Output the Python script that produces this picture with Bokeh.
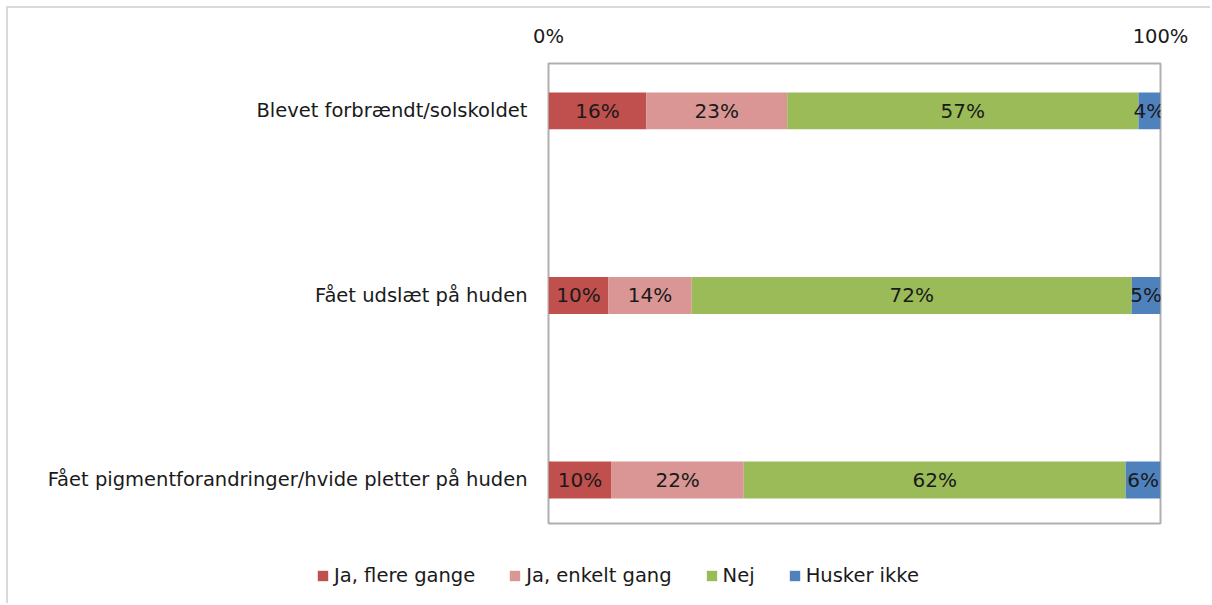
from bokeh.plotting import figure
from bokeh.models import (Range1d, FixedTicker, ColumnDataSource, Legend, LegendItem)
from bokeh.core.properties import value
from bokeh.embed import file_html
from bokeh.resources import INLINE

categories = ["Blevet forbrændt/solskoldet",
              "Fået udslæt på huden",
              "Fået pigmentforandringer/hvide pletter på huden"]
series = ["Ja, flere gange", "Ja, enkelt gang", "Nej", "Husker ikke"]
colors = ["#C0504D", "#D99694", "#9BBB59", "#4F81BD"]

ja_flere = [16.0, 9.8, 10.3]
ja_enkelt = [23.0, 13.6, 21.6]
nej = [57.4, 71.9, 62.4]
husker_ikke = [3.6, 4.7, 5.7]
labels = [["16%", "10%", "10%"],
          ["23%", "14%", "22%"],
          ["57%", "72%", "62%"],
          ["4%", "5%", "6%"]]

FONT = "DejaVu Sans"
FS = "19.5px"
BAR_FS = "20px"
TEXT_COLOR = "#1a1a1a"
BORDER = "2px solid #d9d9d9"

p = figure(width=1204, height=545, output_backend="svg", toolbar_location=None,
           x_axis_location="above", x_range=Range1d(0, 100),
           y_range=Range1d(2.236, -0.257),
           min_border_left=540, min_border_right=52,
           min_border_top=55, min_border_bottom=30)
p.styles = {"margin-left": "6px", "margin-top": "6px",
            "border-left": BORDER, "border-top": BORDER}

ypos = list(range(len(categories)))
vals = [ja_flere, ja_enkelt, nej, husker_ikke]
sources = []
left = [0.0] * len(categories)
for name, col, v, lab in zip(series, colors, vals, labels):
    right = [l + x for l, x in zip(left, v)]
    src = ColumnDataSource(dict(y=ypos, left=left, right=right,
                                mid=[(l + r) / 2 for l, r in zip(left, right)],
                                lab=lab))
    sources.append(src)
    p.hbar(y="y", left="left", right="right", height=0.2, source=src,
           fill_color=col, line_color=None)
    p.text(x="mid", y="y", text="lab", source=src, text_align="center",
           text_baseline="middle", text_font=value(FONT),
           text_font_size=BAR_FS, text_color=TEXT_COLOR)
    left = right

p.xgrid.visible = False
p.ygrid.visible = False
p.outline_line_color = "#b0b0b0"
p.outline_line_width = 2

xa = p.xaxis[0]
xa.ticker = FixedTicker(ticks=[0, 100])
xa.major_label_overrides = {0: "0%", 100: "100%"}
xa.axis_line_color = None
xa.major_tick_line_color = None
xa.minor_tick_line_color = None
xa.major_tick_out = 0
xa.major_tick_in = 0
xa.major_label_standoff = 16
xa.major_label_text_font = FONT
xa.major_label_text_font_size = FS
xa.major_label_text_color = TEXT_COLOR

ya = p.yaxis[0]
ya.ticker = FixedTicker(ticks=ypos)
ya.major_label_overrides = {i: c for i, c in zip(ypos, categories)}
ya.axis_line_color = None
ya.major_tick_line_color = None
ya.minor_tick_line_color = None
ya.major_tick_out = 0
ya.major_tick_in = 0
ya.major_label_standoff = 21
ya.major_label_text_font = FONT
ya.major_label_text_font_size = FS
ya.major_label_text_color = TEXT_COLOR

# legend strip below the chart (separate root so its frame spans the full width)
pl = figure(width=1204, height=52, output_backend="svg", toolbar_location=None,
            x_axis_location=None, y_axis_location=None,
            x_range=Range1d(0, 100), y_range=Range1d(10, 11),
            min_border_left=0, min_border_right=0,
            min_border_top=0, min_border_bottom=0)
pl.styles = {"margin-left": "6px", "border-left": BORDER}
pl.outline_line_color = None
pl.xgrid.visible = False
pl.ygrid.visible = False
items = []
for name, col, src in zip(series, colors, sources):
    r = pl.hbar(y="y", left="left", right="right", height=0.2, source=src,
                fill_color=col, line_color=None)
    items.append(LegendItem(label=name, renderers=[r]))

legend = Legend(items=items, orientation="horizontal", location=(308, 16),
                glyph_width=13, glyph_height=13, label_standoff=5, spacing=33,
                padding=0, margin=0, border_line_color=None,
                background_fill_alpha=0,
                label_text_font=FONT, label_text_font_size=FS,
                label_text_color=TEXT_COLOR)
pl.add_layout(legend, "center")

open("out.html", "w").write(file_html([p, pl], INLINE))
